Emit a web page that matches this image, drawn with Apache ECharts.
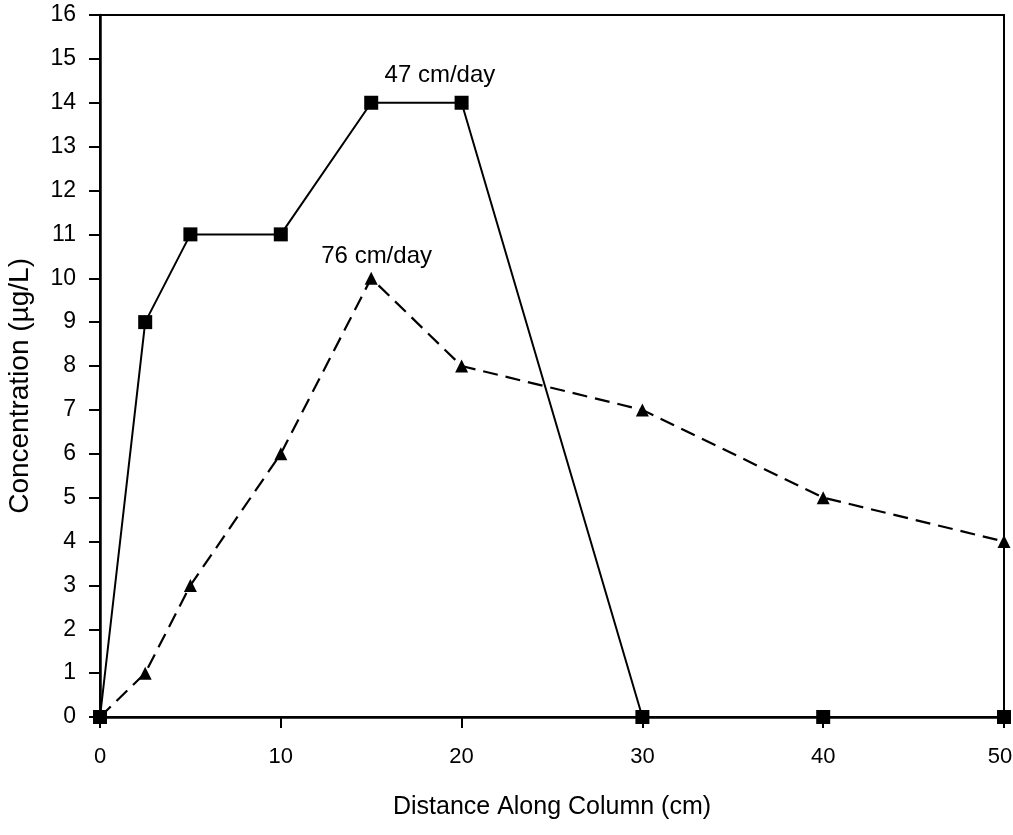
<!DOCTYPE html>
<html>
<head>
<meta charset="utf-8">
<script src="https://cdn.jsdelivr.net/npm/echarts@6/dist/echarts.min.js"></script>
<style>
  html, body { margin: 0; padding: 0; background: #fff; }
  #chart { width: 1013px; height: 835px; }
</style>
</head>
<body>
<div id="chart"></div>
<script>
// Distance along the column (cm) at each sampling port
const distance = [0, 2.5, 5, 10, 15, 20, 30, 40, 50];
// Concentration (µg/L) at each port for the two flow rates
const conc47 = [0, 9, 11, 11, 14, 14, 0, 0, 0];
const conc76 = [0, 1, 3, 6, 10, 8, 7, 5, 4];
const seriesNames = ['47 cm/day', '76 cm/day'];
// Where each flow-rate caption sits, in data units
const captionAt = [[18.8, 14.63], [15.3, 10.5]];
const xMax = 50;

const pairs = (xs, ys) => xs.map((x, i) => [x, ys[i]]);
const FONT = 'Liberation Sans, Arial, sans-serif';

function caption(i) {
  return {
    symbol: 'rect', symbolSize: 1,
    itemStyle: { color: 'rgba(0,0,0,0)' },
    silent: true,
    data: [{
      coord: captionAt[i],
      label: { show: true, position: 'inside', formatter: seriesNames[i], fontFamily: FONT, fontSize: 24, color: '#000' }
    }]
  };
}

const chart = echarts.init(document.getElementById('chart'));
chart.setOption({
  backgroundColor: '#fff',
  animation: false,
  grid: {
    left: 100, top: 15, right: 9, bottom: 118,
    outerBoundsMode: 'none', containLabel: false,
    show: true, borderColor: '#000', borderWidth: 2, backgroundColor: 'transparent'
  },
  graphic: [{
    type: 'text', left: 6, top: 258,
    style: { text: 'Concentration (µg/L)', font: '28px ' + FONT, fill: '#000' },
    rotation: Math.PI / 2, originX: 0, originY: 0
  }],
  xAxis: {
    type: 'value', min: 0, max: xMax, interval: 10,
    name: 'Distance Along Column (cm)', nameLocation: 'middle', nameGap: 78,
    nameTextStyle: { fontFamily: FONT, fontSize: 25, color: '#000' },
    axisLine: { lineStyle: { color: '#000', width: 2.5 } },
    axisTick: { show: true, inside: false, length: 11, lineStyle: { color: '#000', width: 2 } },
    axisLabel: {
      fontFamily: FONT, fontSize: 22, color: '#000', margin: 29,
      // keep the last label inside the page edge
      formatter: v => (v === xMax ? '{edge|' + v + '}' : String(v)),
      rich: { edge: { fontFamily: FONT, fontSize: 22, color: '#000', padding: [0, 8, 0, 0] } }
    },
    splitLine: { show: false }
  },
  yAxis: {
    type: 'value', min: 0, max: 16, interval: 1,
    axisLine: { lineStyle: { color: '#000', width: 2.5 } },
    axisTick: { show: true, inside: false, length: 11, lineStyle: { color: '#000', width: 2 } },
    axisLabel: { fontFamily: FONT, fontSize: 23, color: '#000', margin: 24 },
    splitLine: { show: false }
  },
  series: [
    {
      name: seriesNames[0], type: 'line', data: pairs(distance, conc47),
      symbol: 'rect', symbolSize: 14,
      itemStyle: { color: '#000' },
      lineStyle: { color: '#000', width: 2, type: 'solid' },
      markPoint: caption(0)
    },
    {
      name: seriesNames[1], type: 'line', data: pairs(distance, conc76),
      symbol: 'triangle', symbolSize: 13,
      itemStyle: { color: '#000' },
      lineStyle: { color: '#000', width: 2.2, type: [15, 8] },
      markPoint: caption(1)
    }
  ]
});
</script>
</body>
</html>
